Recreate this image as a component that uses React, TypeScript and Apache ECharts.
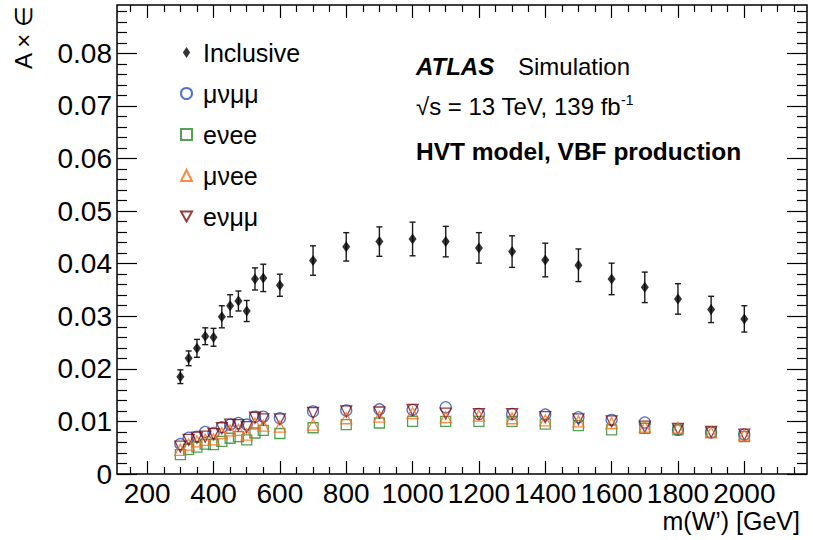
import React, { useEffect, useRef } from 'react';
import * as echarts from 'echarts';

// ---------------- data ----------------
const masses = [300, 325, 350, 375, 400, 425, 450, 475, 500, 525, 550, 600, 700, 800, 900, 1000, 1100, 1200, 1300, 1400, 1500, 1600, 1700, 1800, 1900, 2000];
const inclusive = [0.0185, 0.0220, 0.0239, 0.0262, 0.0260, 0.0299, 0.0320, 0.0329, 0.0310, 0.0371, 0.0373, 0.0359, 0.0406, 0.0432, 0.0442, 0.0447, 0.0442, 0.0430, 0.0423, 0.0407, 0.0397, 0.0371, 0.0355, 0.0333, 0.0313, 0.0295];
const inclusiveErr = [0.0013, 0.0014, 0.0017, 0.0016, 0.0017, 0.0021, 0.0021, 0.0019, 0.0020, 0.0021, 0.0026, 0.0021, 0.0028, 0.0027, 0.0028, 0.0032, 0.0029, 0.0029, 0.0030, 0.0032, 0.0031, 0.0030, 0.0029, 0.0029, 0.0025, 0.0025];
const munumumu = [0.0057, 0.0069, 0.0071, 0.0080, 0.0078, 0.0089, 0.0094, 0.0097, 0.0094, 0.0109, 0.0109, 0.0106, 0.0119, 0.0121, 0.0123, 0.0122, 0.0127, 0.0114, 0.0114, 0.0113, 0.0108, 0.0103, 0.0098, 0.0084, 0.0079, 0.0075];
const enuee = [0.0037, 0.0047, 0.0051, 0.0057, 0.0056, 0.0062, 0.0068, 0.0071, 0.0065, 0.0078, 0.0083, 0.0077, 0.0088, 0.0094, 0.0097, 0.0100, 0.0100, 0.0100, 0.0100, 0.0095, 0.0092, 0.0084, 0.0087, 0.0084, 0.0079, 0.0071];
const munuee = [0.0046, 0.0056, 0.0062, 0.0065, 0.0066, 0.0078, 0.0083, 0.0084, 0.0075, 0.0096, 0.0092, 0.0090, 0.0094, 0.0106, 0.0109, 0.0116, 0.0108, 0.0111, 0.0106, 0.0102, 0.0100, 0.0097, 0.0090, 0.0088, 0.0079, 0.0075];
const enumumu = [0.0052, 0.0065, 0.0069, 0.0071, 0.0076, 0.0087, 0.0094, 0.0093, 0.0089, 0.0107, 0.0104, 0.0104, 0.0116, 0.0119, 0.0117, 0.0122, 0.0115, 0.0114, 0.0114, 0.0108, 0.0104, 0.0100, 0.0090, 0.0086, 0.0080, 0.0075];

const xMajorTicks = [200, 400, 600, 800, 1000, 1200, 1400, 1600, 1800, 2000];
const xTickLabels = ['200', '400', '600', '800', '1000', '1200', '1400', '1600', '1800', '2000'];
const yMajorTicks = [0, 0.01, 0.02, 0.03, 0.04, 0.05, 0.06, 0.07, 0.08];
const yTickLabels = ['0', '0.01', '0.02', '0.03', '0.04', '0.05', '0.06', '0.07', '0.08'];

const seriesNames = ['Inclusive', 'μνμμ', 'eνee', 'μνee', 'eνμμ'];

// ---------------- layout / style ----------------
const X_MIN = 109;
const X_MAX = 2189;
const Y_MIN = 0;
const Y_MAX = 0.0892;
const FONT = '"Liberation Sans", Arial, Helvetica, sans-serif';

const xMinorTicks: number[] = [];
for (let v = 150; v <= 2150; v += 50) if (v % 200 !== 0) xMinorTicks.push(v);
const yMinorTicks: number[] = [];
for (let i = 1; i <= 44; i++) if (i % 5 !== 0) yMinorTicks.push(Math.round(i * 2) / 1000);

const C_BLUE = '#2b4fc0';
const C_GREEN = '#2a8a2a';
const C_ORANGE = '#ff6a14';
const C_DRED = '#7d0d0d';

function lookup(ticks: number[], labels: string[], v: number) {
  const i = ticks.findIndex((t) => Math.abs(t - v) < 1e-6);
  return i >= 0 ? labels[i] : '';
}

function buildOption() {
  const tickStyle = { color: '#000', width: 1.2 };
  const xBase = {
    type: 'value', min: X_MIN, max: X_MAX,
    splitLine: { show: false },
    axisLine: { show: false, onZero: false },
  };
  const yBase = {
    type: 'value', min: Y_MIN, max: Y_MAX,
    splitLine: { show: false },
    axisLine: { show: false, onZero: false },
  };
  const xAxis = [
    {
      ...xBase, position: 'bottom',
      axisTick: { inside: true, length: 13, customValues: xMajorTicks, lineStyle: tickStyle },
      axisLabel: {
        customValues: xMajorTicks, fontSize: 28, color: '#000', fontFamily: FONT, margin: 5,
        formatter: (v: number) => lookup(xMajorTicks, xTickLabels, v),
      },
    },
    {
      ...xBase, position: 'bottom',
      axisTick: { inside: true, length: 7, customValues: xMinorTicks, lineStyle: tickStyle },
      axisLabel: { show: false },
    },
    {
      ...xBase, position: 'top',
      axisTick: { inside: true, length: 13, customValues: xMajorTicks, lineStyle: tickStyle },
      axisLabel: { show: false },
    },
    {
      ...xBase, position: 'top',
      axisTick: { inside: true, length: 7, customValues: xMinorTicks, lineStyle: tickStyle },
      axisLabel: { show: false },
    },
  ];
  const yAxis = [
    {
      ...yBase, position: 'left',
      axisTick: { inside: true, length: 20, customValues: yMajorTicks, lineStyle: tickStyle },
      axisLabel: {
        customValues: yMajorTicks, fontSize: 28, color: '#000', fontFamily: FONT, margin: 5,
        formatter: (v: number) => lookup(yMajorTicks, yTickLabels, v),
      },
    },
    {
      ...yBase, position: 'left',
      axisTick: { inside: true, length: 10, customValues: yMinorTicks, lineStyle: tickStyle },
      axisLabel: { show: false },
    },
    {
      ...yBase, position: 'right',
      axisTick: { inside: true, length: 20, customValues: yMajorTicks, lineStyle: tickStyle },
      axisLabel: { show: false },
    },
    {
      ...yBase, position: 'right',
      axisTick: { inside: true, length: 10, customValues: yMinorTicks, lineStyle: tickStyle },
      axisLabel: { show: false },
    },
  ];

  const hollow = (name: string, values: number[], color: string, symbol: string, size: number, rotate = 0, z = 3) => ({
    type: 'scatter',
    name,
    xAxisIndex: 0,
    yAxisIndex: 0,
    symbol,
    symbolSize: size,
    symbolRotate: rotate,
    z,
    itemStyle: { color: 'rgba(0,0,0,0)', borderColor: color, borderWidth: 1.3 },
    data: masses.map((m, i) => [m, values[i]]),
  });

  return {
    animation: false,
    backgroundColor: '#fff',
    grid: {
      left: 117, right: 6, top: 5, bottom: 66,
      show: true, borderColor: '#000', borderWidth: 1.5, backgroundColor: 'rgba(0,0,0,0)',
    },
    xAxis,
    yAxis,
    legend: {
      orient: 'vertical',
      left: 175,
      top: 35,
      itemGap: 16,
      itemWidth: 11,
      itemHeight: 11,
      selectedMode: false,
      textStyle: { fontSize: 25, fontFamily: FONT, color: '#000', padding: [0, 0, 0, 6] },
      data: [
        { name: seriesNames[0], icon: 'path://M3,0L6,4.5L3,9L0,4.5Z' },
        { name: seriesNames[1], icon: 'circle' },
        { name: seriesNames[2], icon: 'rect' },
        { name: seriesNames[3], icon: 'triangle' },
        { name: seriesNames[4], icon: 'path://M0,0L10,0L5,9Z' },
      ],
    },
    graphic: [
      {
        type: 'text', x: 23, y: 6, rotation: Math.PI / 2,
        style: { text: 'A × ∈', fontSize: 24, fontFamily: FONT, fill: '#000', align: 'right', verticalAlign: 'middle' },
      },
      {
        type: 'text', x: 800, y: 521,
        style: { text: 'm(W’) [GeV]', fontSize: 25, fontFamily: FONT, fill: '#000', align: 'right', verticalAlign: 'middle' },
      },
      {
        type: 'text', x: 416, y: 66,
        style: { text: 'ATLAS', fontSize: 24, fontFamily: FONT, fontWeight: 'bold', fontStyle: 'italic', fill: '#000', align: 'left', verticalAlign: 'middle' },
      },
      {
        type: 'text', x: 518, y: 66,
        style: { text: 'Simulation', fontSize: 24, fontFamily: FONT, fill: '#000', align: 'left', verticalAlign: 'middle' },
      },
      {
        type: 'text', x: 416, y: 106,
        style: {
          text: '{m|√s = 13 TeV, 139 fb}{s|-1}',
          fontFamily: FONT, fill: '#000', align: 'left', verticalAlign: 'middle',
          rich: {
            m: { fontSize: 24, fontFamily: FONT, fill: '#000', lineHeight: 26 },
            s: { fontSize: 14, fontFamily: FONT, fill: '#000', verticalAlign: 'top', lineHeight: 14 },
          },
        },
      },
      {
        type: 'text', x: 416, y: 151,
        style: { text: 'HVT model, VBF production', fontSize: 24.5, fontFamily: FONT, fontWeight: 'bold', fill: '#000', align: 'left', verticalAlign: 'middle' },
      },
    ],
    series: [
      {
        type: 'custom',
        name: 'Inclusive error',
        xAxisIndex: 0,
        yAxisIndex: 0,
        silent: true,
        z: 2,
        renderItem: (params: any, api: any) => {
          const x = api.value(0);
          const y = api.value(1);
          const e = api.value(2);
          const top = api.coord([x, y + e]);
          const bot = api.coord([x, y - e]);
          const cap = 3;
          const st = { stroke: '#1a1a1a', lineWidth: 1.4 };
          return {
            type: 'group',
            children: [
              { type: 'line', shape: { x1: top[0], y1: top[1], x2: bot[0], y2: bot[1] }, style: st },
              { type: 'line', shape: { x1: top[0] - cap, y1: top[1], x2: top[0] + cap, y2: top[1] }, style: st },
              { type: 'line', shape: { x1: bot[0] - cap, y1: bot[1], x2: bot[0] + cap, y2: bot[1] }, style: st },
            ],
          };
        },
        encode: { x: 0, y: 1 },
        data: masses.map((m, i) => [m, inclusive[i], inclusiveErr[i]]),
      },
      {
        type: 'scatter',
        name: seriesNames[0],
        xAxisIndex: 0,
        yAxisIndex: 0,
        symbol: 'diamond',
        symbolSize: [8, 11],
        z: 4,
        itemStyle: { color: '#000' },
        data: masses.map((m, i) => [m, inclusive[i]]),
      },
      hollow(seriesNames[1], munumumu, C_BLUE, 'circle', 11, 0, 3),
      hollow(seriesNames[2], enuee, C_GREEN, 'rect', 10, 0, 3),
      hollow(seriesNames[4], enumumu, C_DRED, 'triangle', 11, 180, 3),
      hollow(seriesNames[3], munuee, C_ORANGE, 'triangle', 11, 0, 3),
    ],
  };
}

export default function App() {
  const ref = useRef<HTMLDivElement>(null);
  useEffect(() => {
    if (!ref.current) return;
    const chart = echarts.init(ref.current, undefined, { renderer: 'svg' });
    chart.setOption(buildOption() as any);
    return () => chart.dispose();
  }, []);
  return (
    <div
      ref={ref}
      style={{ position: 'absolute', left: 0, top: 0, width: 813, height: 540, background: '#fff' }}
    />
  );
}
